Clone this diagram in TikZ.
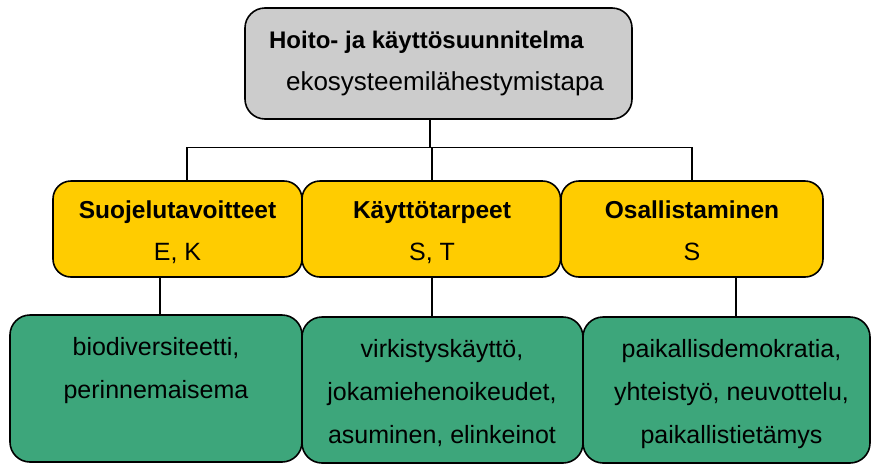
\documentclass[tikz,border=0pt]{standalone}
\usepackage{fontspec}
\setmainfont{Liberation Sans}
\definecolor{boxgray}{HTML}{CCCCCC}
\definecolor{boxyellow}{HTML}{FFCC00}
\definecolor{boxgreen}{HTML}{3DA67B}
\tikzset{
  box/.style={draw=black, line width=1.6pt, rounded corners=18pt, inner sep=0pt, outer sep=0pt},
  conn/.style={draw=black, line width=1.5pt},
  lbl/.style={anchor=base, inner sep=0pt, outer sep=0pt, font=\fontsize{25}{30}\selectfont},
  lblb/.style={lbl, font=\fontsize{24.5}{30}\selectfont\bfseries},
}
\begin{document}
\begin{tikzpicture}[x=1pt,y=-1pt]
\useasboundingbox (0,0) rectangle (871,464);
% boxes
\node[box, fill=boxgray, minimum width=387pt, minimum height=111pt, rounded corners=20pt] (top) at (438.5,63.5) {};
\node[box, fill=boxyellow, minimum width=249pt, minimum height=96pt] (y1) at (177.5,229) {};
\node[box, fill=boxyellow, minimum width=258.5pt, minimum height=96pt] (y2) at (431.25,229) {};
\node[box, fill=boxyellow, minimum width=262pt, minimum height=96pt] (y3) at (692,229) {};
\node[box, fill=boxgreen, minimum width=292pt, minimum height=147pt, rounded corners=20pt] (g1) at (156,388.5) {};
\node[box, fill=boxgreen, minimum width=281pt, minimum height=146pt, rounded corners=20pt] (g2) at (442.5,390) {};
\node[box, fill=boxgreen, minimum width=287pt, minimum height=146pt, rounded corners=20pt] (g3) at (726.5,390) {};
% texts
\node[lblb, font=\fontsize{24}{30}\selectfont\bfseries] (t0a) at (426.5,48) {Hoito- ja käyttösuunnitelma};
\node[lbl, font=\fontsize{26}{30}\selectfont] (t0b) at (445,90) {ekosysteemilähestymistapa};
\node[lblb] (t1a) at (177.5,218) {Suojelutavoitteet};
\node[lbl] (t1b) at (177.5,260.5) {E, K};
\node[lblb] (t2a) at (432,218) {Käyttötarpeet};
\node[lbl] (t2b) at (432,260.5) {S, T};
\node[lblb] (t3a) at (692,218) {Osallistaminen};
\node[lbl] (t3b) at (692,260.5) {S};
\node[lbl] (g1a) at (156,355) {biodiversiteetti,};
\node[lbl] (g1b) at (156,398) {perinnemaisema};
\node[lbl] (g2a) at (442,357) {virkistyskäyttö,};
\node[lbl] (g2b) at (442,400) {jokamiehenoikeudet,};
\node[lbl] (g2c) at (442,443) {asuminen, elinkeinot};
\node[lbl] (g3a) at (731.5,357) {paikallisdemokratia,};
\node[lbl] (g3b) at (731.5,400) {yhteistyö, neuvottelu,};
\node[lbl] (g3c) at (731.5,443) {paikallistietämys};
% connectors
\coordinate (j) at (430,147.5);
\coordinate (jl) at (187,147.5);
\coordinate (jm) at (432,147.5);
\coordinate (jr) at (692,147.5);
\coordinate (d1) at (160,0);
\coordinate (d2) at (432,0);
\coordinate (d3) at (736,0);
\draw[conn] (j |- top.south) -- (j);
\draw[conn] (jl |- y1.north) -- (jl) -- (jr) -- (jr |- y3.north);
\draw[conn] (jm) -- (jm |- y2.north);
\draw[conn] (d1 |- y1.south) -- (d1 |- g1.north);
\draw[conn] (d2 |- y2.south) -- (d2 |- g2.north);
\draw[conn] (d3 |- y3.south) -- (d3 |- g3.north);
\end{tikzpicture}
\end{document}
